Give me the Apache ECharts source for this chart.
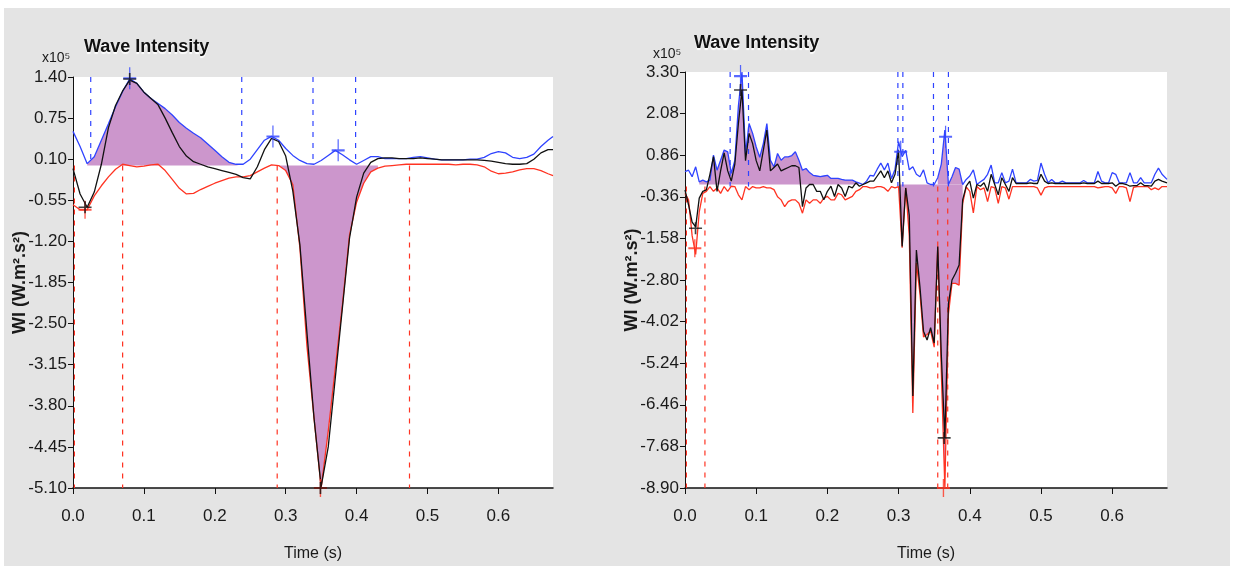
<!DOCTYPE html>
<html><head><meta charset="utf-8">
<script src="https://cdn.jsdelivr.net/npm/echarts@6/dist/echarts.min.js"></script>
<style>
html,body{margin:0;padding:0;background:#fff;}
#frame{position:absolute;left:4px;top:8px;width:1226px;height:558px;background:#e4e4e4;}
#chart{position:absolute;left:0;top:0;width:1236px;height:568px;}
</style></head><body>
<div id="frame"></div><div id="chart"></div>
<script>
// ---- left panel: sample times (s) and wave intensity (x10^5 W.m^-2.s^-2)
const timeL = [0,0.01,0.02,0.03,0.04,0.05,0.06,0.07,0.08,0.09,0.10,0.11,0.12,0.13,0.14,0.15,0.16,0.17,0.18,0.19,0.20,0.21,0.22,0.23,0.24,0.25,0.26,0.27,0.28,0.29,0.30,0.31,0.32,0.33,0.34,0.35,0.36,0.37,0.38,0.39,0.40,0.41,0.42,0.43,0.44,0.45,0.46,0.47,0.48,0.49,0.50,0.51,0.52,0.53,0.54,0.55,0.56,0.57,0.58,0.59,0.60,0.61,0.62,0.63,0.64,0.65,0.66,0.67,0.677];
const forwardL = [0.54,0.30,0.03,0.14,0.40,0.66,0.93,1.17,1.37,1.30,1.16,1.06,0.98,0.90,0.80,0.68,0.59,0.51,0.44,0.34,0.24,0.14,0.05,0.02,0.02,0.10,0.25,0.40,0.46,0.40,0.27,0.16,0.08,0.03,0.02,0.08,0.16,0.24,0.17,0.09,0.02,0.08,0.14,0.14,0.11,0.11,0.11,0.11,0.13,0.14,0.12,0.10,0.09,0.09,0.09,0.09,0.10,0.10,0.13,0.19,0.22,0.20,0.13,0.11,0.13,0.18,0.30,0.40,0.46];
const netL = [-0.05,-0.45,-0.66,-0.42,0.02,0.60,0.95,1.18,1.35,1.30,1.16,1.06,0.96,0.75,0.52,0.30,0.15,0.06,0.02,-0.02,-0.05,-0.08,-0.11,-0.14,-0.19,-0.21,-0.02,0.25,0.43,0.38,0.15,-0.40,-1.25,-2.65,-4.00,-5.08,-4.45,-3.35,-2.25,-1.15,-0.50,-0.12,0.05,0.11,0.12,0.12,0.11,0.11,0.11,0.12,0.11,0.10,0.09,0.09,0.09,0.09,0.09,0.09,0.08,0.07,0.05,0.03,0.02,0.02,0.03,0.10,0.20,0.25,0.25];
const backwardL = [-0.62,-0.70,-0.70,-0.48,-0.32,-0.18,-0.06,0.02,0.00,-0.02,-0.01,0.01,0.02,-0.08,-0.22,-0.36,-0.45,-0.44,-0.38,-0.33,-0.28,-0.24,-0.20,-0.18,-0.18,-0.16,-0.10,-0.04,0.01,0.00,-0.08,-0.30,-1.30,-2.86,-4.00,-5.10,-4.20,-3.20,-2.20,-1.10,-0.58,-0.28,-0.10,-0.04,-0.01,0.00,0.01,0.02,0.02,0.02,0.02,0.02,0.02,0.02,0.01,0.02,0.02,0.01,-0.02,-0.09,-0.13,-0.12,-0.10,-0.07,-0.05,-0.05,-0.08,-0.13,-0.16];
const posAreaL = [[0.02, 0.24]];
const negAreaL = [[0.29, 0.43]];
const fwdTimesL = [0.025, 0.238, 0.3385, 0.3986];
const bwdTimesL = [0.002, 0.070, 0.288, 0.4746];
const fwdPeaksL = [[0.080, 1.38], [0.282, 0.46], [0.374, 0.24]];
const netPeaksL = [[0.080, 1.37], [0.017, -0.66], [0.349, -5.10]];
const bwdPeaksL = [[0.017, -0.70], [0.349, -5.10]];
const yTicksL = [-5.10,-4.45,-3.80,-3.15,-2.50,-1.85,-1.20,-0.55,0.10,0.75,1.40];

// ---- right panel
const timeR = [0,0.005,0.01,0.015,0.02,0.025,0.03,0.035,0.04,0.045,0.05,0.055,0.06,0.065,0.07,0.075,0.08,0.085,0.09,0.095,0.10,0.105,0.11,0.115,0.12,0.125,0.13,0.135,0.14,0.145,0.15,0.155,0.16,0.165,0.17,0.175,0.18,0.185,0.19,0.195,0.20,0.205,0.21,0.215,0.22,0.225,0.23,0.235,0.24,0.245,0.25,0.255,0.26,0.265,0.27,0.275,0.28,0.285,0.29,0.295,0.30,0.305,0.31,0.315,0.32,0.325,0.33,0.335,0.34,0.345,0.35,0.355,0.36,0.365,0.37,0.375,0.38,0.385,0.39,0.395,0.40,0.405,0.41,0.415,0.42,0.425,0.43,0.435,0.44,0.445,0.45,0.455,0.46,0.465,0.47,0.475,0.48,0.485,0.49,0.495,0.50,0.505,0.51,0.515,0.52,0.525,0.53,0.535,0.54,0.545,0.55,0.555,0.56,0.565,0.57,0.575,0.58,0.585,0.59,0.595,0.60,0.605,0.61,0.615,0.62,0.625,0.63,0.635,0.64,0.645,0.65,0.655,0.66,0.665,0.67,0.677];
const forwardR = [0.38,0.42,0.23,0.52,0.08,0.13,0.08,0.13,0.86,0.42,0.71,1.01,0.96,0.33,0.71,2.30,3.30,0.91,1.79,1.50,1.10,0.80,1.20,1.79,0.71,0.52,0.91,0.71,0.81,0.81,0.85,0.96,0.71,0.42,0.47,0.35,0.27,0.25,0.23,0.25,0.27,0.18,0.18,0.18,0.15,0.13,0.13,0.13,0.08,0.04,0.00,0.10,0.27,0.25,0.45,0.63,0.43,0.63,0.17,0.45,1.26,0.82,1.00,0.43,0.52,0.30,0.23,0.43,0.05,0.00,0.00,0.20,0.60,1.60,0.00,0.23,0.50,0.45,0.00,0.15,0.25,0.43,0.00,0.08,0.15,0.30,0.57,0.05,0.05,0.35,0.05,0.10,0.45,0.05,0.05,0.05,0.05,0.15,0.10,0.12,0.63,0.30,0.05,0.15,0.05,0.05,0.10,0.05,0.05,0.05,0.05,0.05,0.12,0.05,0.05,0.05,0.38,0.10,0.05,0.05,0.35,0.30,0.05,0.05,0.05,0.35,0.05,0.05,0.20,0.05,0.05,0.05,0.30,0.48,0.30,0.15];
const netR = [-0.16,-0.60,-1.10,-1.24,-0.40,-0.20,-0.16,0.30,0.82,-0.20,0.40,0.93,0.40,0.10,0.60,1.79,2.77,0.70,1.50,1.20,0.70,0.40,1.00,1.60,0.40,0.50,0.60,0.40,0.45,0.50,0.55,0.55,0.50,-0.65,-0.10,0.00,0.00,-0.20,-0.20,-0.45,-0.20,-0.05,-0.35,0.00,-0.10,-0.35,-0.05,-0.10,0.05,-0.05,0.00,0.05,0.10,0.10,0.25,0.40,0.20,0.40,0.05,0.30,1.00,-1.82,-0.10,-0.90,-6.20,-1.92,-3.00,-4.30,-4.56,-4.20,-4.65,-1.82,-5.00,-7.43,-3.50,-2.80,-2.60,-2.36,-0.45,-0.05,0.10,-0.40,0.00,-0.05,0.05,-0.20,0.30,0.00,-0.30,0.20,0.00,-0.20,0.20,0.03,0.03,0.03,0.03,0.05,0.03,0.03,0.30,0.10,0.03,0.05,0.03,0.03,0.03,0.03,0.03,0.03,0.03,0.03,0.05,0.03,0.03,0.03,0.10,0.03,0.03,0.03,0.05,-0.05,0.03,0.03,0.00,-0.05,-0.03,-0.03,0.05,-0.03,-0.03,-0.05,0.10,0.15,0.10,0.05];
const backwardR = [-0.26,-0.45,-1.50,-2.05,-0.80,-0.26,-0.20,-0.06,-0.20,-0.10,-0.26,-0.06,-0.20,-0.05,-0.06,-0.30,-0.45,-0.06,-0.15,-0.06,-0.10,-0.10,-0.06,-0.10,-0.10,-0.15,-0.36,-0.45,-0.65,-0.50,-0.45,-0.45,-0.55,-0.84,-0.45,-0.55,-0.45,-0.45,-0.55,-0.40,-0.35,-0.45,-0.45,-0.26,-0.30,-0.45,-0.40,-0.35,-0.20,-0.15,-0.06,-0.06,-0.10,-0.10,-0.06,-0.06,-0.10,-0.20,-0.06,-0.10,-0.06,-1.85,-0.10,-1.50,-6.70,-2.30,-3.20,-4.47,-4.40,-4.30,-4.77,-1.82,-5.50,-8.90,-3.80,-2.90,-2.90,-2.95,-0.55,-0.07,-0.20,-0.83,-0.06,-0.15,-0.10,-0.50,-0.06,-0.10,-0.55,-0.06,-0.10,-0.43,-0.06,-0.06,-0.06,-0.06,-0.06,-0.06,-0.06,-0.10,-0.31,-0.10,-0.06,-0.06,-0.06,-0.06,-0.06,-0.06,-0.06,-0.06,-0.06,-0.06,-0.06,-0.06,-0.06,-0.06,-0.10,-0.08,-0.06,-0.06,-0.10,-0.26,-0.06,-0.06,-0.10,-0.50,-0.08,-0.06,-0.06,-0.06,-0.06,-0.15,-0.10,-0.15,-0.06,-0.06];
const posAreaR = [[0.02, 0.245], [0.355, 0.39]];
const negAreaR = [[0.30, 0.39]];
const fwdTimesR = [0.0634, 0.0892, 0.299, 0.306, 0.349, 0.370];
const bwdTimesR = [0.002, 0.028, 0.355, 0.369];
const fwdPeaksR = [[0.078, 3.18], [0.303, 0.96], [0.366, 1.40]];
const netPeaksR = [[0.078, 2.77], [0.0148, -1.28], [0.364, -7.43]];
const bwdPeaksR = [[0.0138, -1.87], [0.363, -8.90]];
const yTicksR = [-8.90,-7.68,-6.46,-5.24,-4.02,-2.80,-1.58,-0.36,0.86,2.08,3.30];

const xTicks = [0,0.1,0.2,0.3,0.4,0.5,0.6];
const X_MAX = 0.677;

const BLUE = '#2f43ff', RED = '#ff3322', BLACK = '#111111', FILL = '#cc96cc';
const SANS = "'Liberation Sans',Arial,sans-serif";

function pairs(time, vals) { return time.map((t, i) => [t, vals[i]]); }
function within(time, vals, ranges) {
  return time.map((t, i) => {
    const inside = ranges.some(r => t >= r[0] - 1e-9 && t <= r[1] + 1e-9);
    return [t, inside ? vals[i] : null];
  });
}

function panelSeries(g, p) {
  const s = [];
  const base = { xAxisIndex: g, yAxisIndex: g, animation: false, silent: true };
  // shaded wave areas
  s.push(Object.assign({}, base, { type: 'line', data: within(p.time, p.fwd, p.posArea), showSymbol: false,
    connectNulls: false, lineStyle: { opacity: 0 }, areaStyle: { color: FILL, opacity: 1, origin: 0 }, z: 1 }));
  s.push(Object.assign({}, base, { type: 'line', data: within(p.time, p.bwd, p.negArea), showSymbol: false,
    connectNulls: false, lineStyle: { opacity: 0 }, areaStyle: { color: FILL, opacity: 1, origin: 0 }, z: 1 }));
  // wave timing markers
  p.fwdTimes.forEach(t => s.push(Object.assign({}, base, { type: 'line', showSymbol: false, z: 2,
    data: [[t, p.yMax], [t, p.fwdFoot]], lineStyle: { color: BLUE, width: 1.2, type: [5, 6] } })));
  p.bwdTimes.forEach(t => s.push(Object.assign({}, base, { type: 'line', showSymbol: false, z: 2,
    data: [[t, p.bwdHead], [t, p.yMin]], lineStyle: { color: RED, width: 1.2, type: [5, 6] } })));
  // intensity traces
  s.push(Object.assign({}, base, { type: 'line', data: pairs(p.time, p.bwd), showSymbol: false, z: 3,
    lineStyle: { color: RED, width: 1.3 } }));
  s.push(Object.assign({}, base, { type: 'line', data: pairs(p.time, p.fwd), showSymbol: false, z: 3,
    lineStyle: { color: BLUE, width: 1.3 } }));
  s.push(Object.assign({}, base, { type: 'line', data: pairs(p.time, p.net), showSymbol: false, z: 4,
    lineStyle: { color: BLACK, width: 1.3 } }));
  // peak crosses
  const cross = 'path://M6,0 L6,20 M0,10 L12,10';
  [[p.fwdPeaks, BLUE, [13, 22]], [p.bwdPeaks, RED, [13, 18]], [p.netPeaks, BLACK, [13, 12]]].forEach(([d, c, sz]) => {
    s.push(Object.assign({}, base, { type: 'scatter', data: d, symbol: cross, symbolSize: sz, clip: false, z: 5,
      itemStyle: { color: 'none', borderColor: c, borderWidth: 1.6 } }));
  });
  return s;
}

function xAxis(g) {
  return { type: 'value', gridIndex: g, min: 0, max: X_MAX, interval: 0.1,
    axisLine: { show: true, onZero: false, lineStyle: { color: BLACK, width: 1.5 } },
    axisTick: { show: true, length: 6, customValues: xTicks, lineStyle: { color: BLACK } },
    axisLabel: { customValues: xTicks, formatter: v => v.toFixed(1), fontSize: 17,
      fontFamily: SANS, color: '#1a1a1a', margin: 20 },
    splitLine: { show: false },
    name: 'Time (s)', nameLocation: 'middle', nameGap: 58, nameMoveOverlap: false,
    nameTextStyle: { fontSize: 16, fontFamily: SANS, color: '#1a1a1a' } };
}
function yAxis(g, ticks) {
  const min = ticks[0], max = ticks[ticks.length - 1];
  return { type: 'value', gridIndex: g, min: min, max: max, interval: +(ticks[1] - ticks[0]).toFixed(2),
    axisLine: { show: true, onZero: false, lineStyle: { color: BLACK, width: 1 } },
    axisTick: { show: true, length: 5, customValues: ticks, lineStyle: { color: BLACK } },
    axisLabel: { customValues: ticks, formatter: v => v.toFixed(2), fontSize: 17, fontFamily: SANS,
      color: '#1a1a1a', margin: 6 },
    splitLine: { show: false },
    name: 'WI (W.m\u00b2.s\u00b2)', nameLocation: 'middle', nameRotate: 90, nameGap: 44, nameMoveOverlap: false,
    nameTextStyle: { fontSize: 18, fontWeight: 'bold', fontFamily: SANS, color: '#1a1a1a' } };
}

const titleStyle = { fontSize: 18, fontWeight: 'bold', fontFamily: SANS, color: '#111',
  textShadowColor: '#ffffff', textShadowOffsetY: 2, textShadowBlur: 1 };
const expStyle = { fontSize: 14, fontWeight: 'normal', fontFamily: SANS, color: '#1a1a1a' };

const chart = echarts.init(document.getElementById('chart'), null, { renderer: 'canvas' });
chart.setOption({
  backgroundColor: 'transparent',
  animation: false,
  title: [
    { text: 'Wave Intensity', left: 79, top: 33, textStyle: titleStyle },
    { text: 'x10\u2075', left: 37, top: 46, textStyle: expStyle },
    { text: 'Wave Intensity', left: 689, top: 29, textStyle: titleStyle },
    { text: 'x10\u2075', left: 648, top: 42, textStyle: expStyle }
  ],
  grid: [
    { left: 73, top: 77, width: 480, height: 411, show: true, backgroundColor: '#ffffff', borderWidth: 0,
      containLabel: false, outerBoundsMode: 'none' },
    { left: 685, top: 72, width: 482, height: 416, show: true, backgroundColor: '#ffffff', borderWidth: 0,
      containLabel: false, outerBoundsMode: 'none' }
  ],
  xAxis: [xAxis(0), xAxis(1)],
  yAxis: [yAxis(0, yTicksL), yAxis(1, yTicksR)],
  series: [].concat(
    panelSeries(0, { time: timeL, fwd: forwardL, net: netL, bwd: backwardL, posArea: posAreaL, negArea: negAreaL,
      fwdTimes: fwdTimesL, bwdTimes: bwdTimesL, fwdPeaks: fwdPeaksL, netPeaks: netPeaksL, bwdPeaks: bwdPeaksL,
      yMax: 1.40, yMin: -5.10, fwdFoot: 0.02, bwdHead: 0.0 }),
    panelSeries(1, { time: timeR, fwd: forwardR, net: netR, bwd: backwardR, posArea: posAreaR, negArea: negAreaR,
      fwdTimes: fwdTimesR, bwdTimes: bwdTimesR, fwdPeaks: fwdPeaksR, netPeaks: netPeaksR, bwdPeaks: bwdPeaksR,
      yMax: 3.30, yMin: -8.90, fwdFoot: -0.06, bwdHead: -0.06 })
  )
});
</script>
</body></html>
